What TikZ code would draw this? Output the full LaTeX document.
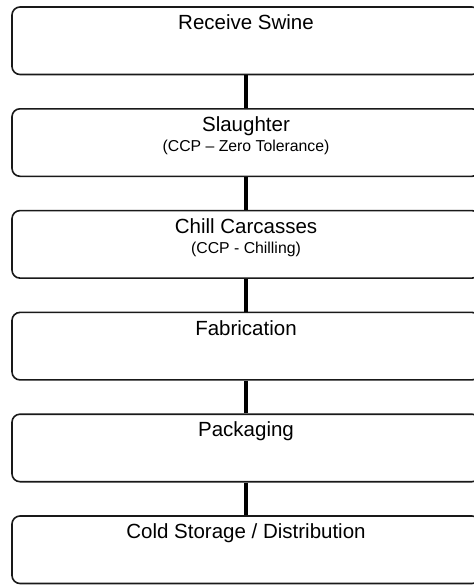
\documentclass[tikz,border=0pt]{standalone}
\usepackage{fontspec}
\setmainfont{Liberation Sans}
\begin{document}
\begin{tikzpicture}[x=1pt,y=-1pt,
  box/.style={draw=black!90, line width=1.6pt, rounded corners=8pt, minimum width=468pt, minimum height=67.5pt, inner sep=0pt},
  title/.style={anchor=base, inner sep=0pt, font=\fontsize{20.5}{24}\selectfont},
  sub/.style={anchor=base, inner sep=0pt, font=\fontsize{15.8}{19}\selectfont},
  conn/.style={line width=4.6pt, black}]
\clip (0,0) rectangle (474,587);
\node[box] (b1) at (246,40.75) {};
\node[box] (b2) at (246,142.55) {};
\node[box] (b3) at (246,244.35) {};
\node[box] (b4) at (246,346.15) {};
\node[box] (b5) at (246,447.95) {};
\node[box] (b6) at (246,549.75) {};
\node[title] (t1) at ([yshift=-23.5pt]b1.north) {Receive Swine};
\node[title] (t2) at ([yshift=-23.5pt]b2.north) {Slaughter};
\node[sub] (s2) at ([yshift=-43.8pt]b2.north) {(CCP – Zero Tolerance)};
\node[title] (t3) at ([yshift=-23.5pt]b3.north) {Chill Carcasses};
\node[sub] (s3) at ([yshift=-43.3pt]b3.north) {(CCP - Chilling)};
\node[title] (t4) at ([yshift=-23.5pt]b4.north) {Fabrication};
\node[title] (t5) at ([yshift=-23.5pt]b5.north) {Packaging};
\node[title] (t6) at ([yshift=-23.5pt]b6.north) {Cold Storage / Distribution};
\draw[conn] (b1.south) -- (b2.north);
\draw[conn] (b2.south) -- (b3.north);
\draw[conn] (b3.south) -- (b4.north);
\draw[conn] (b4.south) -- (b5.north);
\draw[conn] (b5.south) -- (b6.north);
\end{tikzpicture}
\end{document}
